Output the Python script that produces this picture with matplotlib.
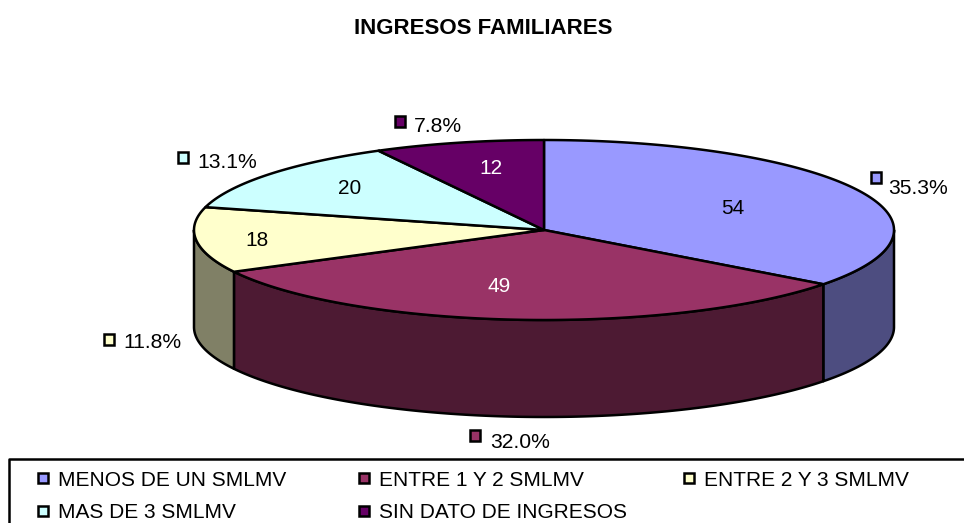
import numpy as np
import matplotlib
matplotlib.use("Agg")
import matplotlib.pyplot as plt
from matplotlib.patches import Polygon, Rectangle

plt.rcParams['font.family'] = ['Liberation Sans', 'DejaVu Sans']

# data
categories = ["MENOS DE UN SMLMV", "ENTRE 1 Y 2 SMLMV", "ENTRE 2 Y 3 SMLMV",
              "MAS DE 3 SMLMV", "SIN DATO DE INGRESOS"]
values = [54, 49, 18, 20, 12]
percent_labels = ["35.3%", "32.0%", "11.8%", "13.1%", "7.8%"]
top_colors = ["#9999ff", "#993366", "#ffffcc", "#ccffff", "#660066"]
side_colors = ["#4d4d80", "#4d1a33", "#808066", "#668080", "#330033"]
value_colors = ["black", "white", "black", "black", "white"]

# pie geometry, pixels
cx, cy = 544, 230
rx, ry = 350, 90
depth = 97

# label places, pixels
value_pos = [(733, 208), (499, 287), (257, 241), (350, 189), (491, 168)]
percent_pos = [(888, 189), (490, 442), (123, 343), (197, 163), (414, 127)]
swatch_pos = [(871, 172), (470, 430), (104, 334), (178, 152), (395, 116)]
legend_swatch = [(38, 473), (359, 473), (684, 473), (38, 506), (359, 506)]

fig = plt.figure(figsize=(9.64, 5.23), dpi=100)
ax = fig.add_axes([0, 0, 1, 1])
ax.set_xlim(0, 964)
ax.set_ylim(523, 0)
ax.axis("off")


def rim(t0, t1, dy=0):
    t = np.linspace(t0, t1, max(int((t1 - t0) * 120), 2))
    return np.column_stack([cx + rx * np.sin(t), cy + dy - ry * np.cos(t)])


# angles go clockwise from 12 o'clock
edges = np.concatenate([[0], np.cumsum(values)]) / sum(values) * 2 * np.pi

# side walls first, only the front half of the ellipse shows
for i in range(len(values)):
    t0 = max(edges[i], np.pi / 2)
    t1 = min(edges[i + 1], 3 * np.pi / 2)
    if t1 <= t0:
        continue
    upper = rim(t0, t1)
    lower = rim(t0, t1, depth)[::-1]
    ax.add_patch(Polygon(np.vstack([upper, lower]), closed=True, fc=side_colors[i],
                         ec="black", lw=1.8, joinstyle="round"))

# top face
for i in range(len(values)):
    pts = np.vstack([[[cx, cy]], rim(edges[i], edges[i + 1])])
    ax.add_patch(Polygon(pts, closed=True, fc=top_colors[i], ec="black", lw=1.8,
                         joinstyle="round"))

for i in range(len(values)):
    ax.text(value_pos[i][0], value_pos[i][1], str(values[i]), fontsize=15,
            color=value_colors[i], ha="center", va="center")
    ax.text(percent_pos[i][0], percent_pos[i][1], percent_labels[i], fontsize=15.2,
            ha="left", va="center")
    ax.add_patch(Rectangle(swatch_pos[i], 10, 11, fc=top_colors[i], ec="black", lw=1.8))

ax.text(483, 28, "INGRESOS FAMILIARES", fontsize=16, fontweight="bold",
        ha="center", va="center")

# legend box runs off the bottom and right of the picture
ax.plot([964, 9, 9], [459, 459, 523], color="black", lw=1.8)
for i in range(len(categories)):
    x, y = legend_swatch[i]
    ax.add_patch(Rectangle((x, y), 10, 10, fc=top_colors[i], ec="black", lw=1.8))
    ax.text(x + 20, y + 7, categories[i], fontsize=15, ha="left", va="center")

fig.savefig("out.png", dpi=100)
